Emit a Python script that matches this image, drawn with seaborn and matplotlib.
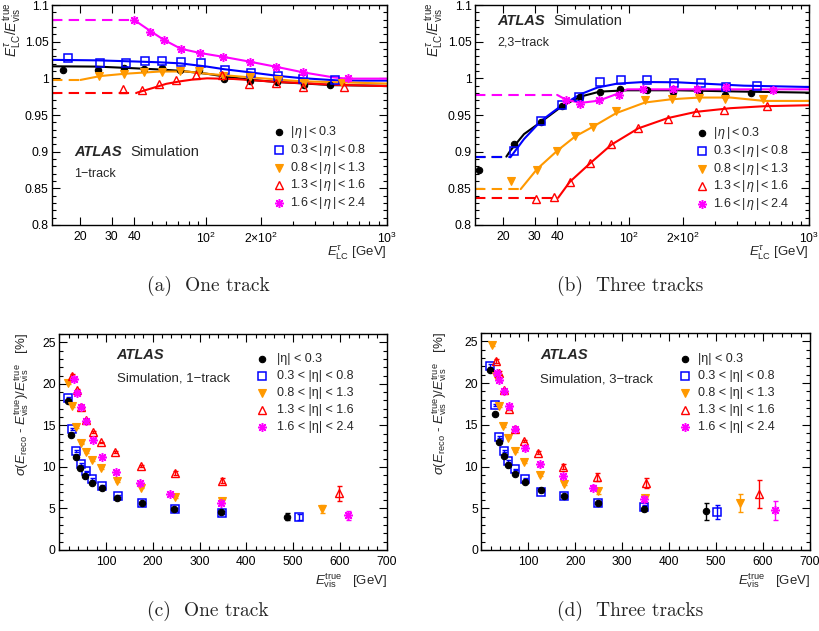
import matplotlib
matplotlib.use("Agg")
import matplotlib.pyplot as plt
from matplotlib.ticker import FixedLocator, MultipleLocator, FuncFormatter, NullFormatter
import seaborn as sns

# ---------------------------------------------------------------- data
eta_math = [r"$|\,\eta\,| < 0.3$", r"$0.3 < |\,\eta\,| < 0.8$", r"$0.8 < |\,\eta\,| < 1.3$",
            r"$1.3 < |\,\eta\,| < 1.6$", r"$1.6 < |\,\eta\,| < 2.4$"]
eta_text = ["|η| < 0.3", "0.3 < |η| < 0.8", "0.8 < |η| < 1.3", "1.3 < |η| < 1.6", "1.6 < |η| < 2.4"]
colors = ["#000000", "#0000ff", "#ff9900", "#ff0000", "#ff00ff"]

# (a) response, 1-track: points
a_pt = [[16.1, 25.3, 35.1, 45.4, 56.6, 71.8, 91.4, 125.8, 175, 246, 346, 485],
        [17.2, 25.7, 36, 46, 56.6, 72.1, 93, 127, 177, 248, 345, 515],
        [25.6, 35.2, 45.4, 56.6, 71.8, 91.4, 123.7, 175, 248, 346, 564],
        [34.5, 44.1, 54.5, 68.2, 88, 122, 171.7, 244, 343, 580],
        [39.6, 49, 58, 72.4, 92.6, 123, 173.6, 244, 345, 612]]
a_resp = [[1.0115, 1.0119, 1.0137, 1.0124, 1.0146, 1.0115, 1.0115, 0.9991, 0.997, 0.9945, 0.9915, 0.9903],
          [1.0279, 1.0204, 1.0212, 1.0239, 1.0239, 1.0217, 1.0204, 1.0111, 1.0075, 1.0031, 0.9987, 0.9973],
          [1.0031, 1.0062, 1.0093, 1.0093, 1.0102, 1.0105, 1.0035, 1.0018, 0.9982, 0.9938, 0.9938],
          [0.985, 0.9836, 0.9916, 0.9978, 1.0044, 1.004, 0.9916, 0.9938, 0.9885, 0.9885],
          [1.0801, 1.0637, 1.0522, 1.0403, 1.0345, 1.0292, 1.0226, 1.0155, 1.008, 1.0004]]
# (a) calibration curves: constant below the fit range, fitted shape above
a_flat_end = [None, None, 20.1, 41.4, 39.6]
a_flat_val = [None, None, 0.9978, 0.9805, 1.0801]
a_fit_pt = [[14, 25, 40, 56, 72, 101, 125, 175, 246, 346, 506, 1000],
            [14, 25, 40, 56, 72, 101, 125, 177, 246, 331, 529, 700, 1000],
            [20.1, 25.9, 35.2, 55.6, 78, 101, 175, 331, 1000],
            [41.4, 53.3, 60, 72, 85, 101, 142, 246, 506, 1000],
            [39.6, 49, 58, 72.4, 92.6, 125, 175, 246, 346, 506, 600, 1000]]
a_fit_resp = [[1.0164, 1.0160, 1.0137, 1.0120, 1.0102, 1.0062, 1.0027, 0.998, 0.995, 0.993, 0.9907, 0.9898],
              [1.0252, 1.0245, 1.023, 1.0218, 1.0204, 1.016, 1.0125, 1.008, 1.0035, 1.0004, 0.9972, 0.9969, 0.9969],
              [0.9978, 1.0031, 1.0062, 1.0093, 1.0093, 1.0062, 1.0013, 0.996, 0.9929],
              [0.9805, 0.9885, 0.9925, 0.996, 0.9985, 1.0, 0.9991, 0.9951, 0.9912, 0.9894],
              [1.0801, 1.0646, 1.0527, 1.0403, 1.0345, 1.0292, 1.0226, 1.0155, 1.008, 1.0013, 0.9996, 0.9996]]

# (b) response, 2,3-track: points
b_pt = [[14.8, 22.9, 32.6, 42.8, 53.9, 69, 89.5, 125.4, 175, 244, 341, 478],
        [22.9, 32.6, 42.6, 52.8, 69.6, 90.7, 125.4, 177, 250, 345, 512],
        [22.3, 31.0, 40.1, 50.4, 63.1, 85, 122.7, 172.6, 246, 341, 556],
        [30.4, 38.3, 47, 61, 80, 112.7, 164, 236, 337, 587],
        [44.7, 53.9, 68, 88.4, 119.6, 175, 238, 345, 632]]
b_resp = [[0.8751, 0.9104, 0.9407, 0.9624, 0.9751, 0.9819, 0.986, 0.9837, 0.9819, 0.9814, 0.9769, 0.98],
          [0.9004, 0.9421, 0.9633, 0.9742, 0.995, 0.9977, 0.9977, 0.9937, 0.9937, 0.9882, 0.9891],
          [0.8602, 0.8756, 0.9014, 0.9217, 0.9339, 0.9557, 0.9701, 0.9715, 0.9738, 0.9715, 0.9715],
          [0.8348, 0.838, 0.8588, 0.8842, 0.9104, 0.9321, 0.9439, 0.9547, 0.957, 0.9629],
          [0.971, 0.9656, 0.9701, 0.9769, 0.9851, 0.986, 0.986, 0.9875, 0.9842]]
b_flat_end = [20.9, 22.0, 25.1, 40.5, 40.0]
b_flat_val = [0.8932, 0.8923, 0.8489, 0.8371, 0.9774]
b_fit_pt = [[20.9, 22.0, 26.2, 32.6, 42.8, 53.9, 69, 98, 185.6, 435, 1000],
            [22, 26.2, 32.6, 42.8, 53.9, 66.7, 86.1, 121.2, 185.6, 284, 435, 1000],
            [25.1, 31, 40.1, 50.4, 63.1, 85, 122.7, 172.6, 246, 367, 563, 1000],
            [40.5, 47, 61, 80, 112.7, 164, 236, 367, 563, 1000],
            [40, 44.7, 53.9, 68, 84.3, 97.9, 1000]]
b_fit_resp = [[0.8932, 0.9014, 0.924, 0.9407, 0.9624, 0.9751, 0.9819, 0.9837, 0.9837, 0.9819, 0.9805],
              [0.8923, 0.9172, 0.9421, 0.9638, 0.9783, 0.9873, 0.9928, 0.995, 0.9946, 0.9923, 0.99, 0.9882],
              [0.8489, 0.8765, 0.9014, 0.9208, 0.9339, 0.9525, 0.967, 0.9715, 0.9738, 0.9738, 0.9692, 0.9692],
              [0.8371, 0.8588, 0.8842, 0.9095, 0.9317, 0.9457, 0.9543, 0.9593, 0.962, 0.9633],
              [0.9774, 0.971, 0.9665, 0.9695, 0.978, 0.985, 0.985]]

# (c) resolution, 1-track
c_pt = [[18.1, 25.2, 35.9, 45.2, 55.9, 70.1, 91.5, 124.2, 176.2, 246, 346, 486],
        [18.1, 26.7, 36.6, 46.6, 56.6, 70.8, 92.2, 125, 176.2, 247.6, 347.3, 513],
        [19.6, 26.7, 36.5, 46.5, 56.6, 69.8, 89.8, 123.5, 175, 248, 347.3, 561],
        [27.6, 37.3, 45.9, 56.9, 71.2, 90.2, 119.3, 174.2, 247.6, 349, 597],
        [30.9, 37.7, 46.6, 56.7, 71.2, 90.8, 121.4, 172.7, 237, 345.2, 618]]
c_res = [[17.97, 13.87, 11.25, 9.85, 8.96, 8.04, 7.44, 6.23, 5.63, 4.9, 4.54, 4.02],
         [18.29, 14.55, 11.94, 10.37, 9.45, 8.56, 7.72, 6.51, 5.71, 4.9, 4.5, 4.0],
         [20.1, 17.38, 14.83, 12.82, 11.76, 10.81, 9.85, 8.34, 7.52, 6.35, 5.85, 4.94],
         [20.95, 19.25, 17.22, 15.68, 14.17, 12.96, 11.82, 10.13, 9.28, 8.36, 6.83],
         [20.55, 18.85, 17.18, 15.58, 13.3, 11.25, 9.36, 8.12, 6.79, 5.63, 4.2]]
c_err = [[0.15, 0.12, 0.1, 0.1, 0.1, 0.1, 0.1, 0.1, 0.1, 0.15, 0.2, 0.45],
         [0.15, 0.12, 0.1, 0.1, 0.1, 0.1, 0.1, 0.1, 0.1, 0.15, 0.2, 0.35],
         [0.15, 0.12, 0.1, 0.1, 0.1, 0.1, 0.1, 0.1, 0.1, 0.15, 0.25, 0.5],
         [0.2, 0.15, 0.12, 0.1, 0.1, 0.1, 0.1, 0.15, 0.2, 0.3, 0.9],
         [0.2, 0.15, 0.12, 0.1, 0.1, 0.1, 0.1, 0.15, 0.2, 0.25, 0.55]]

# (d) resolution, 3-track
d_pt = [[18.5, 28.4, 38.4, 47.6, 56.8, 72.4, 93, 126.4, 176.8, 247.9, 347.3, 478],
        [18.5, 28.4, 38.4, 47.6, 57.5, 72.4, 93, 126.4, 176.8, 249.3, 347.3, 502.8],
        [22.6, 30.5, 37.5, 46.7, 57.3, 71.6, 91.4, 124.9, 176.7, 249, 348.7, 551],
        [30.5, 37.5, 48.8, 58.8, 72.4, 91.4, 120, 174.5, 246.3, 350.7, 592],
        [33, 38.4, 48.8, 58.8, 71.6, 92.9, 124.9, 174.5, 238.4, 346.5, 625.7]]
d_res = [[21.62, 16.32, 12.94, 11.21, 10.21, 9.16, 8.16, 7.15, 6.43, 5.67, 4.94, 4.62],
         [22.1, 17.36, 13.59, 11.86, 10.65, 9.65, 8.56, 6.99, 6.43, 5.59, 5.1, 4.54],
         [24.6, 20.9, 17.28, 14.87, 13.47, 11.86, 10.53, 9.04, 7.96, 7.11, 6.2, 5.63],
         [22.63, 21.19, 19.17, 16.88, 14.47, 13.06, 11.66, 9.97, 8.72, 7.99, 6.71],
         [21.2, 20.4, 19.1, 17.2, 14.5, 12.18, 10.25, 8.84, 7.44, 6.11, 4.74]]
d_err = [[0.2, 0.15, 0.12, 0.1, 0.1, 0.1, 0.1, 0.1, 0.15, 0.2, 0.3, 1.05],
         [0.2, 0.15, 0.12, 0.1, 0.1, 0.1, 0.1, 0.1, 0.15, 0.2, 0.3, 0.85],
         [0.2, 0.15, 0.12, 0.1, 0.1, 0.1, 0.1, 0.15, 0.2, 0.35, 0.4, 1.05],
         [0.25, 0.2, 0.15, 0.12, 0.12, 0.15, 0.2, 0.3, 0.5, 0.6, 1.65],
         [0.25, 0.2, 0.15, 0.12, 0.12, 0.15, 0.2, 0.25, 0.3, 0.45, 1.15]]

log_ticks = [20, 30, 40, 100, 200, 1000]
log_labels = ["20", "30", "40", r"$10^{2}$", r"$2{\times}10^{2}$", r"$10^{3}$"]

# ---------------------------------------------------------------- style
sns.set_theme(style="ticks")
plt.rcParams["font.family"] = ["Liberation Sans", "DejaVu Sans"]
plt.rcParams["mathtext.fontset"] = "custom"
plt.rcParams["mathtext.rm"] = "Liberation Sans"
plt.rcParams["mathtext.it"] = "Liberation Sans:italic"
plt.rcParams["mathtext.bf"] = "Liberation Sans:bold"
plt.rcParams["mathtext.sf"] = "Liberation Sans"

MARK = [dict(marker="o", ms=4.6, mfc="#000000", mec="#000000", mew=0.8),
        dict(marker="s", ms=5.6, mfc="none", mec="#0000ff", mew=1.1),
        dict(marker="v", ms=5.2, mfc="#ff9900", mec="#ff9900", mew=0.8),
        dict(marker="^", ms=6.0, mfc="none", mec="#ff0000", mew=1.0),
        dict(marker=(8, 2, 0), ms=6.4, mfc="#ff00ff", mec="#ff00ff", mew=1.1)]

TICK_FS = 8.7
KEY_FS = 9.0

fig = plt.figure(figsize=(8.2, 6.31), dpi=100)
ax_a = fig.add_axes([52 / 820, 1 - 225 / 631, 335 / 820, 220 / 631])
ax_b = fig.add_axes([475 / 820, 1 - 225 / 631, 334 / 820, 220 / 631])
ax_c = fig.add_axes([59.2 / 820, 1 - 550 / 631, 327.5 / 820, 216 / 631])
ax_d = fig.add_axes([481.4 / 820, 1 - 550 / 631, 328.6 / 820, 217 / 631])


def frame(ax):
    for s in ax.spines.values():
        s.set_linewidth(1.0)
        s.set_color("black")
    ax.tick_params(which="both", direction="in", top=True, right=True,
                   labelsize=TICK_FS, colors="black", width=0.8)
    ax.tick_params(axis="x", which="both", pad=4.5)
    ax.tick_params(axis="y", which="both", pad=2.5)
    ax.tick_params(which="major", length=6.0)
    ax.tick_params(which="minor", length=3.2)


def key(ax, labels, xm, xt, y0, dy):
    for i, lab in enumerate(labels):
        y = y0 - i * dy
        ax.plot([xm], [y], transform=ax.transAxes, clip_on=False, ls="none", **MARK[i])
        ax.text(xt, y, lab, transform=ax.transAxes, fontsize=KEY_FS, va="center", ha="left")


def response_panel(ax, pts, resp, fpt, fresp, fend, fval, ylab_x):
    ax.set_xscale("log")
    for i in range(5):
        c = colors[i]
        if fend[i] is not None:
            sns.lineplot(x=[14, fend[i]], y=[fval[i], fval[i]], ax=ax, color=c, lw=1.5,
                         linestyle=(0, (5, 3)), estimator=None, sort=False)
        sns.lineplot(x=fpt[i], y=fresp[i], ax=ax, color=c, lw=1.5, estimator=None, sort=False)
    for i in range(5):
        sns.lineplot(x=pts[i], y=resp[i], ax=ax, color=colors[i], linestyle="none",
                     estimator=None, sort=False, **MARK[i])
    ax.set_xlim(14, 1000)
    ax.set_ylim(0.8, 1.1)
    frame(ax)
    ax.xaxis.set_major_locator(FixedLocator(log_ticks))
    ax.xaxis.set_major_formatter(FuncFormatter(lambda v, p: log_labels[log_ticks.index(int(round(v)))]
                                               if int(round(v)) in log_ticks else ""))
    ax.xaxis.set_minor_locator(FixedLocator([50, 60, 70, 80, 90, 300, 400, 500, 600, 700, 800, 900]))
    ax.xaxis.set_minor_formatter(NullFormatter())
    ax.yaxis.set_major_locator(MultipleLocator(0.05))
    ax.yaxis.set_minor_locator(MultipleLocator(0.01))
    ax.yaxis.set_major_formatter(FuncFormatter(lambda v, p: f"{v:g}"))
    ax.set_xlabel(r"$E^{\tau}_{\mathrm{LC}}$ [GeV]", fontsize=9.5, ha="right")
    ax.xaxis.set_label_coords(1.0, -0.088)
    ax.set_ylabel(r"$E^{\tau}_{\mathrm{LC}}/E^{\mathrm{true}}_{\mathrm{vis}}$", fontsize=10, ha="right")
    ax.yaxis.set_label_coords(ylab_x, 1.01)


def resolution_panel(ax, pts, res, err, ylab_x):
    for i in range(5):
        ax.errorbar(pts[i], res[i], yerr=err[i], fmt="none", ecolor=colors[i],
                    elinewidth=1.0, capsize=1.8, capthick=1.0)
    for i in [1, 0, 2, 3, 4]:
        sns.lineplot(x=pts[i], y=res[i], ax=ax, color=colors[i], linestyle="none",
                     estimator=None, sort=False, **MARK[i])
    ax.set_xlim(0, 700)
    ax.set_ylim(0, 26)
    frame(ax)
    ax.xaxis.set_major_locator(FixedLocator([100, 200, 300, 400, 500, 600, 700]))
    ax.xaxis.set_minor_locator(MultipleLocator(20))
    ax.yaxis.set_major_locator(MultipleLocator(5))
    ax.yaxis.set_minor_locator(MultipleLocator(1))
    ax.set_xlabel(r"$E^{\mathrm{true}}_{\mathrm{vis}}$   [GeV]", fontsize=9.5, ha="right")
    ax.xaxis.set_label_coords(1.0, -0.098)
    ax.set_ylabel(r"$\sigma(E_{\mathrm{reco}}$ - $E^{\mathrm{true}}_{\mathrm{vis}})/E^{\mathrm{true}}_{\mathrm{vis}}$   [%]",
                  fontsize=9.5, ha="right")
    ax.yaxis.set_label_coords(ylab_x, 1.005)


# (a)
response_panel(ax_a, a_pt, a_resp, a_fit_pt, a_fit_resp, a_flat_end, a_flat_val, -0.088)
key(ax_a, eta_math, 0.678, 0.710, 0.4227, 0.0807)
ax_a.text(0.0657, 0.332, "ATLAS", transform=ax_a.transAxes, fontsize=10.5,
          fontweight="bold", fontstyle="italic", va="center")
ax_a.text(0.233, 0.332, "Simulation", transform=ax_a.transAxes, fontsize=10.5, va="center")
ax_a.text(0.0657, 0.232, "1−track", transform=ax_a.transAxes, fontsize=9, va="center")

# (b)
response_panel(ax_b, b_pt, b_resp, b_fit_pt, b_fit_resp, b_flat_end, b_flat_val, -0.09)
key(ax_b, eta_math, 0.680, 0.7126, 0.418, 0.0809)
ax_b.text(0.0668, 0.927, "ATLAS", transform=ax_b.transAxes, fontsize=10.5,
          fontweight="bold", fontstyle="italic", va="center")
ax_b.text(0.2344, 0.927, "Simulation", transform=ax_b.transAxes, fontsize=10.5, va="center")
ax_b.text(0.0668, 0.830, "2,3−track", transform=ax_b.transAxes, fontsize=9, va="center")

# (c)
resolution_panel(ax_c, c_pt, c_res, c_err, -0.085)
key(ax_c, eta_text, 0.619, 0.665, 0.884, 0.0787)
ax_c.text(0.1756, 0.903, "ATLAS", transform=ax_c.transAxes, fontsize=10.5,
          fontweight="bold", fontstyle="italic", va="center")
ax_c.text(0.1756, 0.792, "Simulation, 1−track", transform=ax_c.transAxes, fontsize=9.5, va="center")

# (d)
resolution_panel(ax_d, d_pt, d_res, d_err, -0.10)
key(ax_d, eta_text, 0.6196, 0.659, 0.880, 0.0783)
ax_d.text(0.178, 0.899, "ATLAS", transform=ax_d.transAxes, fontsize=10.5,
          fontweight="bold", fontstyle="italic", va="center")
ax_d.text(0.178, 0.787, "Simulation, 3−track", transform=ax_d.transAxes, fontsize=9.5, va="center")

# sub-figure captions
cap = dict(fontsize=14, family="cmr10", ha="center", va="center")
fig.text(208 / 820, 1 - 286 / 631, "(a)  One track", **cap)
fig.text(630 / 820, 1 - 286 / 631, "(b)  Three tracks", **cap)
fig.text(208 / 820, 1 - 611 / 631, "(c)  One track", **cap)
fig.text(630 / 820, 1 - 611 / 631, "(d)  Three tracks", **cap)

fig.savefig("out.png", dpi=100)
